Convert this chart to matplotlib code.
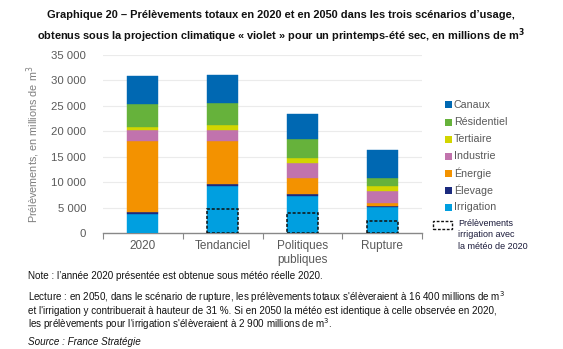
import matplotlib
matplotlib.use("Agg")
import matplotlib.pyplot as plt
from matplotlib.patches import Rectangle
from matplotlib.ticker import FuncFormatter

plt.rcParams['font.family'] = ['Liberation Sans', 'DejaVu Sans']

categories = ["2020", "Tendanciel", "Politiques\npubliques", "Rupture"]
series_names = ["Irrigation", "Élevage", "Énergie", "Industrie", "Tertiaire", "Résidentiel", "Canaux"]
irrigation  = [3700, 9200, 7300, 5100]
elevage     = [400, 500, 400, 200]
energie     = [13900, 8300, 3100, 650]
industrie   = [2300, 2300, 2950, 2250]
tertiaire   = [600, 900, 1000, 1000]
residentiel = [4500, 4400, 3700, 1600]
canaux      = [5400, 5500, 4900, 5600]
irrigation_meteo_2020 = [None, 4750, 4000, 2400]

colors = ["#009fe0", "#1b2a7e", "#f39200", "#c173ad", "#d2d500", "#66b23b", "#0068b2"]
values = [irrigation, elevage, energie, industrie, tertiaire, residentiel, canaux]

fig = plt.figure(figsize=(5.63, 3.49), dpi=100)
ax = fig.add_axes([103/563, 1-233/349, 319/563, 178/349])

x = list(range(len(categories)))
bottom = [0]*len(categories)
for name, vals, c in zip(series_names, values, colors):
    ax.bar(x, vals, width=0.39, bottom=bottom, color=c, label=name,
           edgecolor=c, linewidth=0.3, zorder=3)
    bottom = [bb+v for bb, v in zip(bottom, vals)]

for i, v in enumerate(irrigation_meteo_2020):
    if v:
        ax.add_patch(Rectangle((i-0.195, 0), 0.39, v, fill=False, edgecolor="#111111",
                               linestyle=(0, (2, 1.2)), linewidth=1.1, zorder=4))

ax.set_xlim(-0.5, 3.5)
ax.set_ylim(0, 35000)
ax.set_yticks(range(0, 35001, 5000))
ax.yaxis.set_major_formatter(FuncFormatter(lambda v, p: f"{int(v):,}".replace(",", " ")))
ax.grid(axis='y', color="#ebebeb", linewidth=0.8, zorder=0)
ax.set_axisbelow(True)
for s in ["top", "right", "left"]:
    ax.spines[s].set_visible(False)
ax.spines["bottom"].set_color("#888888")
ax.spines["bottom"].set_linewidth(1.0)
ax.tick_params(axis='y', length=0, labelsize=8.2, labelcolor="#595959", pad=12)
ax.set_xticks([-0.5, 0.5, 1.5, 2.5, 3.5])
ax.set_xticklabels([])
ax.set_xticks(x, minor=True)
ax.set_xticklabels(categories, minor=True, fontsize=8.5, color="#595959")
ax.tick_params(axis='x', which='major', length=4, color="#888888", direction='out')
ax.tick_params(axis='x', which='minor', length=0, pad=5)
ax.set_ylabel("Prélèvements, en millions de m$^3$", fontsize=7.8, color="#7f7f7f", labelpad=7)

# legend
leg_items = list(zip(series_names, colors))[::-1]
y0 = 105
for k, (name, c) in enumerate(leg_items):
    yy = y0 + k*17
    fig.patches.append(Rectangle((445/563, 1-(yy+3.5)/349), 7/563, 7/349, transform=fig.transFigure,
                                 facecolor=c, edgecolor='none'))
    fig.text(454/563, 1-yy/349, name, fontsize=7.7, color="#595959", va='center', ha='left')

fig.patches.append(Rectangle((433/563, 1-229/349), 19/563, 8/349, transform=fig.transFigure,
                             fill=False, edgecolor="#111111", linestyle=(0, (2, 1.2)), linewidth=1.0))
fig.text(458/563, 1-219/349, "Prélèvements\nirrigation avec\nla météo de 2020", fontsize=6.5,
         color="#1a1a3a", va='top', ha='left', linespacing=1.35)

fig.text(281/563, 1-10/349,
         "Graphique 20 – Prélèvements totaux en 2020 et en 2050 dans les trois scénarios d’usage,\n"
         "obtenus sous la projection climatique « violet » pour un printemps-été sec, en millions de m$^\\mathbf{3}$",
         fontsize=7.9, fontweight='bold', ha='center', va='top', linespacing=1.45, color="#111111")

fs = 7.1
fig.text(28/563, 1-276/349, "Note : l’année 2020 présentée est obtenue sous météo réelle 2020.",
         fontsize=fs, va='center', color="#111111")
fig.text(28/563, 1-297/349,
         "Lecture : en 2050, dans le scénario de rupture, les prélèvements totaux s'élèveraient à 16 400 millions de m$^3$",
         fontsize=fs, va='center', color="#111111")
fig.text(28/563, 1-310.5/349,
         "et l'irrigation y contribuerait à hauteur de 31 %. Si en 2050 la météo est identique à celle observée en 2020,",
         fontsize=fs, va='center', color="#111111")
fig.text(28/563, 1-324/349,
         "les prélèvements pour l'irrigation s'élèveraient à 2 900 millions de m$^3$.",
         fontsize=fs, va='center', color="#111111")
fig.text(28/563, 1-342/349, "Source : France Stratégie", fontsize=fs, style='italic',
         va='center', color="#111111")

fig.savefig("out.png", dpi=100)
